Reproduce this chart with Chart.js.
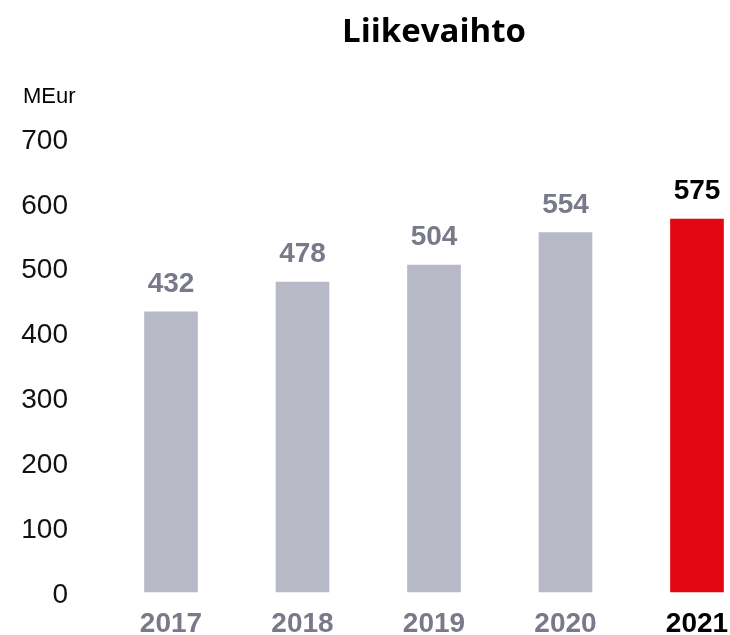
<!DOCTYPE html>
<html lang="fi">
<head>
    <meta charset="UTF-8">
    <title>Liikevaihto</title>
    <style>
        body {
            margin: 0;
            padding: 0;
            background: #ffffff;
            overflow: hidden;
        }
    </style>
</head>
<body>
    <canvas id="myChart" width="730" height="635"></canvas>

    <script src="https://cdn.jsdelivr.net/npm/chart.js"></script>
    <script>
        // Data
        const years = ['2017', '2018', '2019', '2020', '2021'];
        const revenue = [432, 478, 504, 554, 575];
        const yTicks = [0, 100, 200, 300, 400, 500, 600, 700];
        const chartTitle = 'Liikevaihto';
        const unitLabel = 'MEur';

        const GREY_BAR = '#b8b9c7';
        const GREY_TEXT = '#787989';
        const RED = '#e30613';
        const lastIdx = years.length - 1;

        // title, unit and the value labels above the bars
        const textPlugin = {
            id: 'texts',
            afterDraw(chart) {
                const ctx = chart.ctx;
                const area = chart.chartArea;
                ctx.save();
                ctx.fillStyle = '#000';
                ctx.textAlign = 'center';
                ctx.textBaseline = 'alphabetic';
                ctx.font = 'bold 33px "Open Sans", sans-serif';
                ctx.fillText(chartTitle, (area.left + area.right) / 2, 42);

                ctx.textAlign = 'left';
                ctx.font = '22px "Liberation Sans", Arial, sans-serif';
                ctx.fillText(unitLabel, 23, 103);

                ctx.textAlign = 'center';
                ctx.font = 'bold 28px "Liberation Sans", Arial, sans-serif';
                chart.getDatasetMeta(0).data.forEach((bar, i) => {
                    ctx.fillStyle = i === lastIdx ? '#000' : GREY_TEXT;
                    ctx.fillText(revenue[i], bar.x, bar.y - 20);
                });
                ctx.restore();
            }
        };

        const ctx = document.getElementById('myChart').getContext('2d');
        const chart = new Chart(ctx, {
            type: 'bar',
            data: {
                labels: years,
                datasets: [{
                    data: revenue,
                    backgroundColor: c => c.dataIndex === lastIdx ? RED : GREY_BAR,
                    barThickness: 53,
                    clip: false
                }]
            },
            options: {
                responsive: false,
                animation: false,
                layout: {
                    padding: { top: 138, right: 33, bottom: 0, left: 0 }
                },
                plugins: {
                    legend: { display: false },
                    tooltip: { enabled: false },
                    title: { display: false }
                },
                scales: {
                    x: {
                        offset: false,
                        grid: { display: false, drawTicks: false },
                        border: { display: false },
                        ticks: {
                            maxRotation: 0,
                            autoSkip: false,
                            padding: 15,
                            color: c => c.index === lastIdx ? '#000' : GREY_TEXT,
                            font: { family: '"Liberation Sans Narrow", "Liberation Sans", Arial, sans-serif', size: 28, weight: 'bold' }
                        },
                        afterFit: scale => {
                            scale.height = 43;
                            scale.paddingLeft = 0;
                            scale.paddingRight = 0;
                        }
                    },
                    y: {
                        min: 0,
                        max: 700,
                        grid: { display: false, drawTicks: false },
                        border: { display: false },
                        afterBuildTicks: scale => {
                            scale.ticks = yTicks.map(v => ({ value: v }));
                        },
                        ticks: {
                            padding: 103,
                            labelOffset: 3,
                            color: '#111',
                            font: { family: '"Liberation Sans", Arial, sans-serif', size: 28 }
                        },
                        afterFit: scale => {
                            scale.width = 171;
                            scale.paddingTop = 0;
                            scale.paddingBottom = 0;
                        }
                    }
                }
            },
            plugins: [textPlugin]
        });
    </script>
</body>
</html>
